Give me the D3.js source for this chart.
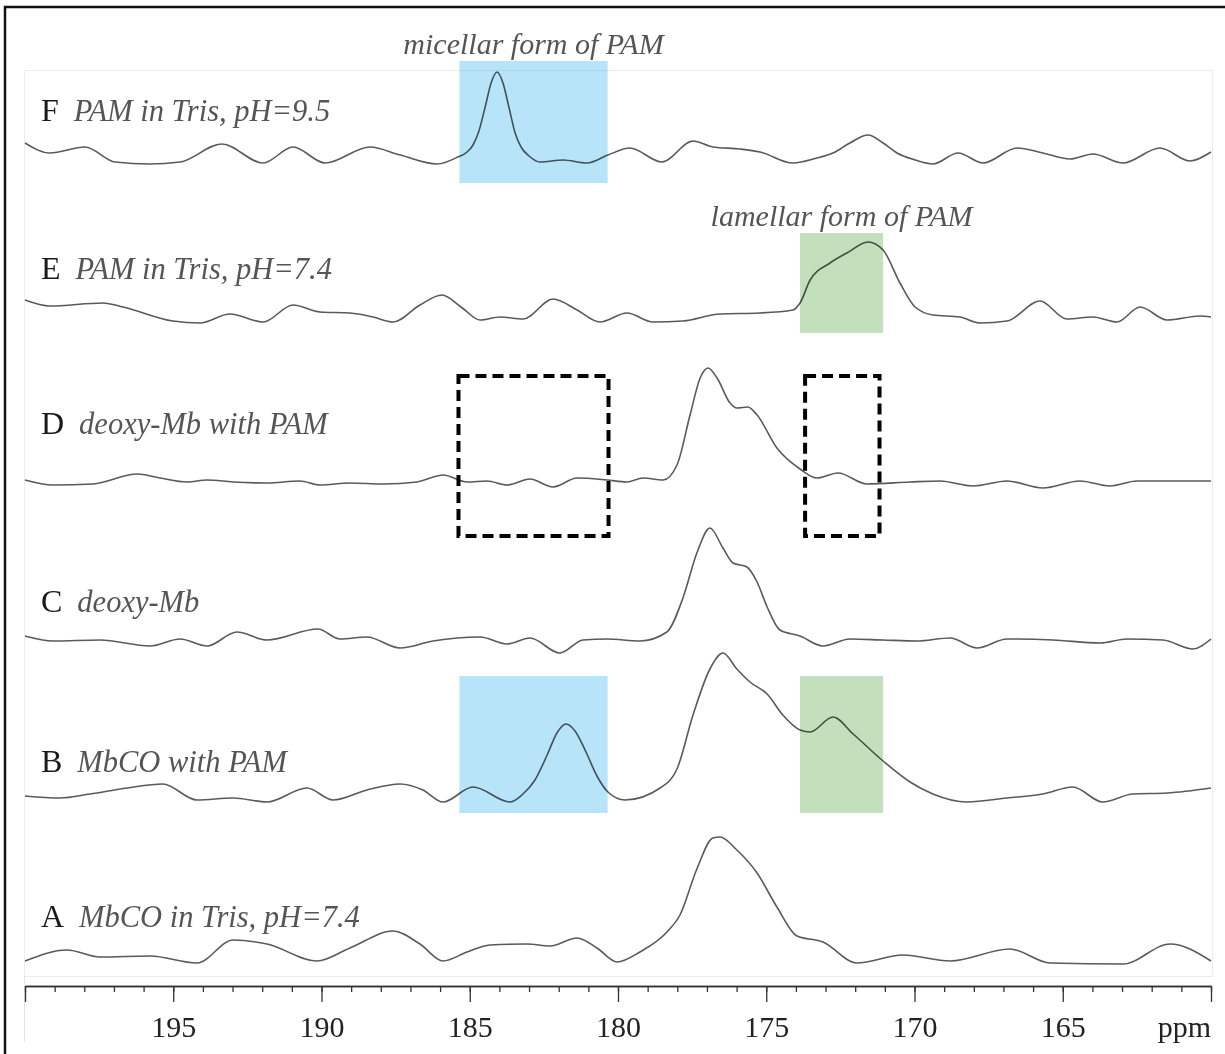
<!DOCTYPE html>
<html>
<head>
<meta charset="utf-8">
<script src="https://cdn.jsdelivr.net/npm/d3@7"></script>
<style>
  html, body { margin: 0; padding: 0; background: #fff; }
  svg { display: block; }
  text { font-family: "Liberation Serif", "Times New Roman", serif; }
</style>
</head>
<body>
<svg id="chart" width="1225" height="1054"></svg>
<script>
// 13C NMR spectra, chemical shift (ppm) vs. intensity (arbitrary units)
const rows = ["F", "E", "D", "C", "B", "A"];
const rowTitles = [
  "PAM in Tris, pH=9.5",
  "PAM in Tris, pH=7.4",
  "deoxy-Mb with PAM",
  "deoxy-Mb",
  "MbCO with PAM",
  "MbCO in Tris, pH=7.4"
];

const spectrumF = [
  [200.00, 12], [199.16, 2], [197.98, 8], [196.96, -7], [195.80, -9], [194.77, -7],
  [193.36, 11], [191.97, -8], [190.96, 8], [189.88, -8], [188.36, 8], [187.35, 0],
  [186.10, -9], [185.40, -2], [185.09, 3], [184.89, 10], [184.69, 24], [184.48, 48],
  [184.28, 72], [184.08, 83], [183.88, 72], [183.68, 48], [183.47, 22], [183.27, 8],
  [183.00, -1], [182.63, -7], [181.85, -5], [181.05, -8], [180.34, 0], [179.60, 7],
  [178.52, -7], [177.47, 14], [176.80, 8], [175.89, 6], [175.21, 3], [174.10, -8],
  [173.29, -3], [172.75, 2], [172.18, 12], [171.57, 20], [171.06, 12], [170.59, 2],
  [169.98, -5], [169.38, -9], [168.53, 2], [167.69, -8], [166.54, 7], [165.67, 2],
  [164.76, -4], [163.98, 1], [162.97, -8], [161.72, 7], [160.71, -6], [160.00, 3]
];

const spectrumE = [
  [200.00, 14], [199.16, 8], [197.37, 11], [196.69, 7], [195.01, -7], [194.10, -9],
  [193.09, 0], [191.97, -8], [190.96, 9], [190.05, 2], [189.04, 1], [188.26, -3],
  [187.59, -8], [186.68, 9], [185.94, 19], [185.25, 6], [184.65, -6], [183.98, -3],
  [183.20, -5], [182.19, 15], [181.38, 4], [180.61, -8], [179.70, 1], [178.82, -8],
  [177.81, -7], [176.56, 0], [175.21, 1], [174.10, 4], [173.86, 11], [173.52, 34],
  [172.85, 51], [172.28, 61], [171.57, 72], [171.06, 64], [170.49, 31], [169.98, 7],
  [169.38, -1], [168.47, -3], [167.79, -9], [166.88, -7], [165.77, 13], [164.86, -5],
  [163.98, -3], [163.17, -8], [162.39, 7], [161.48, -6], [160.37, -2], [160.00, -3]
];

const spectrumD = [
  [200.00, 1], [199.06, -4], [197.71, -3], [196.22, 7], [195.45, 3], [194.54, -1],
  [193.86, 1], [192.98, -1], [191.84, -2], [190.73, 0], [190.05, -4], [189.04, -2],
  [187.93, -3], [186.78, -1], [185.90, 6], [185.09, -1], [184.42, 0], [183.74, -4],
  [182.97, 2], [182.19, -6], [181.38, 3], [180.37, 1], [179.70, -1], [179.16, 3],
  [178.48, 1], [178.01, 16], [177.57, 66], [177.23, 103], [176.96, 113], [176.66, 103],
  [176.22, 78], [175.99, 73], [175.62, 74], [175.31, 66], [174.64, 33], [173.86, 12],
  [173.29, 3], [172.58, 8], [171.60, -3], [170.15, -1], [169.14, 0], [168.03, -5],
  [166.88, 0], [165.67, -7], [164.42, 0], [163.41, -5], [162.50, 0], [161.40, 0],
  [160.00, 0]
];

const spectrumC = [
  [200.00, 4], [199.06, -1], [197.47, 0], [195.78, -6], [194.77, 1], [193.86, -6],
  [192.85, 8], [191.84, 0], [190.12, 11], [189.38, 1], [188.47, 3], [187.35, -8],
  [186.24, -1], [184.65, 3], [183.74, -4], [182.97, 2], [181.96, -13], [181.18, 0],
  [180.37, 1], [179.26, -1], [178.35, 8], [177.81, 42], [177.34, 87], [176.90, 112],
  [176.46, 92], [176.12, 77], [175.65, 73], [175.31, 58], [174.97, 33], [174.54, 10],
  [173.86, 4], [173.09, -6], [172.18, 1], [171.06, 0], [169.92, -1], [168.80, 2],
  [167.89, -8], [166.88, 1], [165.33, 0], [163.74, -3], [162.83, 1], [161.62, 0],
  [160.61, -9], [160.00, 1]
];

const spectrumB = [
  [200.00, 1], [198.82, -1], [197.81, 3], [196.56, 9], [195.35, 13], [194.20, -3],
  [192.98, -1], [191.84, -5], [190.49, 9], [189.61, -3], [188.47, 7], [187.35, 13],
  [186.58, 7], [185.90, -5], [184.89, 10], [183.64, -5], [183.24, 2], [182.80, 17],
  [182.39, 42], [182.06, 64], [181.75, 73], [181.45, 66], [181.08, 45], [180.71, 21],
  [180.34, 5], [179.76, -3], [178.58, 9], [178.01, 28], [177.47, 82], [176.90, 128],
  [176.46, 144], [175.99, 128], [175.55, 115], [174.97, 103], [174.44, 82], [173.86, 67],
  [173.52, 65], [172.75, 80], [172.07, 63], [171.06, 36], [170.15, 15], [169.38, 3],
  [168.23, -5], [166.88, -1], [165.67, 3], [164.66, 10], [163.65, -5], [162.64, 3],
  [161.48, 4], [160.00, 9]
];

const spectrumA = [
  [200.00, -4], [198.58, 7], [197.47, 0], [195.78, 1], [194.20, -6], [192.98, 17],
  [191.84, 13], [190.15, -4], [189.04, 9], [187.59, 26], [186.68, 13], [185.90, -4],
  [185.09, 5], [184.32, 12], [183.07, 13], [182.29, 11], [181.38, 19], [180.71, 9],
  [180.03, -5], [179.26, 5], [178.35, 25], [177.91, 42], [177.34, 88], [176.80, 119],
  [176.56, 120], [175.99, 107], [175.31, 84], [174.64, 50], [173.96, 21], [173.09, 15],
  [171.94, -6], [170.39, 2], [168.80, -4], [166.78, 8], [165.43, -6], [162.97, -7],
  [161.38, 13], [160.00, -4]
];

const spectra = [spectrumF, spectrumE, spectrumD, spectrumC, spectrumB, spectrumA];

// shaded regions: ppm range and intensity extent on a given trace
const shadedRegions = [
  { row: "F", from: 185.35, to: 180.35, top: 94, bottom: -28, kind: "micellar" },
  { row: "E", from: 173.86, to: 171.06, top: 81, bottom: -19, kind: "lamellar" },
  { row: "B", from: 185.35, to: 180.35, top: 121, bottom: -16, kind: "micellar" },
  { row: "B", from: 173.86, to: 171.06, top: 121, bottom: -16, kind: "lamellar" }
];
const dashedRegions = [
  { row: "D", from: 185.38, to: 180.32, top: 105, bottom: -55 },
  { row: "D", from: 173.69, to: 171.18, top: 105, bottom: -55 }
];
const regionNotes = [
  { row: "F", text: "micellar form of PAM", from: 185.35, to: 180.35, lift: 101 },
  { row: "E", text: "lamellar form of PAM", from: 173.86, to: 171.06, lift: 88 }
];

const majorTicks = [200, 195, 190, 185, 180, 175, 170, 165, 160];
const labelledTicks = [195, 190, 185, 180, 175, 170, 165];

// ---------- layout ----------
const svg = d3.select("#chart");
const W = 1225, H = 1054;
const axisY = 986;
const baseline = { F: 155, E: 314, D: 481, C: 640, B: 797, A: 957 };
const labelY = { F: 121, E: 279, D: 434, C: 612, B: 772, A: 927 };
const fills = { micellar: "#b8e4f9", lamellar: "#c4dfbc" };

const x = d3.scaleLinear().domain([200, 160]).range([25, 1211]);
const yI = d3.scaleLinear().domain([0, 100]).range([0, -100]);

// outer frame and faint plot frame
svg.append("rect")
  .attr("x", 5).attr("y", 7).attr("width", W + 20).attr("height", H + 20)
  .attr("fill", "none").attr("stroke", "#111").attr("stroke-width", 2.5);
svg.append("rect")
  .attr("x", 24.5).attr("y", 70.5).attr("width", 1188).attr("height", 906)
  .attr("fill", "none").attr("stroke", "#ececec").attr("stroke-width", 1);
svg.append("line")
  .attr("x1", 24.5).attr("x2", 24.5).attr("y1", 976).attr("y2", 1042)
  .attr("stroke", "#e4e4e4").attr("stroke-width", 1);

// traces: monotone spline in x through the sampled points
const line = d3.line()
  .x(d => x(d[0]))
  .y(d => d[1])
  .curve(d3.curveMonotoneX);

rows.forEach((r, i) => {
  const pts = spectra[i].map(d => [d[0], baseline[r] + yI(d[1])]);
  svg.append("path")
    .attr("d", line(pts))
    .attr("fill", "none")
    .attr("stroke", "#5a5a5a")
    .attr("stroke-width", 1.6)
    .attr("stroke-linejoin", "round");
});

// shaded regions, multiplied over the traces
svg.selectAll("rect.region")
  .data(shadedRegions)
  .join("rect")
  .attr("class", "region")
  .attr("x", d => x(d.from))
  .attr("width", d => x(d.to) - x(d.from))
  .attr("y", d => baseline[d.row] + yI(d.top))
  .attr("height", d => yI(d.bottom) - yI(d.top))
  .attr("fill", d => fills[d.kind])
  .style("mix-blend-mode", "multiply");

// dashed outlines
svg.selectAll("rect.dashed")
  .data(dashedRegions)
  .join("rect")
  .attr("class", "dashed")
  .attr("x", d => x(d.from))
  .attr("width", d => x(d.to) - x(d.from))
  .attr("y", d => baseline[d.row] + yI(d.top))
  .attr("height", d => yI(d.bottom) - yI(d.top))
  .attr("fill", "none")
  .attr("stroke", "#000")
  .attr("stroke-width", 4)
  .attr("stroke-dasharray", "11,6");

// region notes
svg.selectAll("text.note")
  .data(regionNotes)
  .join("text")
  .attr("class", "note")
  .attr("x", d => (x(d.from) + x(d.to)) / 2)
  .attr("y", d => baseline[d.row] + yI(d.lift))
  .attr("text-anchor", "middle")
  .attr("font-style", "italic")
  .attr("font-size", 30)
  .attr("fill", "#555")
  .text(d => d.text);

// trace labels
rows.forEach((r, i) => {
  const t = svg.append("text")
    .attr("x", 41)
    .attr("y", labelY[r]);
  t.append("tspan")
    .attr("font-size", 32)
    .attr("fill", "#1a1a1a")
    .text(r);
  t.append("tspan")
    .attr("dx", 15)
    .attr("font-size", 30.5)
    .attr("font-style", "italic")
    .attr("fill", "#555")
    .text(rowTitles[i]);
});

// ppm axis: minor ticks every 1 ppm, major every 5 ppm
const minorAxis = d3.axisBottom(x)
  .tickValues(d3.range(160, 201, 1))
  .tickSize(6)
  .tickSizeOuter(0)
  .tickFormat("");
const gMinor = svg.append("g").attr("transform", `translate(0,${axisY})`).call(minorAxis);

const majorAxis = d3.axisBottom(x)
  .tickValues(majorTicks)
  .tickSize(16)
  .tickSizeOuter(0)
  .tickPadding(14)
  .tickFormat(d => labelledTicks.includes(d) ? d : "");
const gMajor = svg.append("g").attr("transform", `translate(0,${axisY})`).call(majorAxis);

[gMinor, gMajor].forEach(g => {
  g.selectAll(".domain").attr("stroke", "#333").attr("stroke-width", 1.5);
  g.selectAll(".tick line").attr("stroke", "#333").attr("stroke-width", 1.3);
});
gMajor.selectAll(".tick text")
  .attr("font-family", "'Liberation Serif', 'Times New Roman', serif")
  .attr("font-size", 30)
  .attr("fill", "#222");

svg.append("text")
  .attr("x", x(160))
  .attr("y", 1037)
  .attr("text-anchor", "end")
  .attr("font-size", 30)
  .attr("fill", "#222")
  .text("ppm");
</script>
</body>
</html>
